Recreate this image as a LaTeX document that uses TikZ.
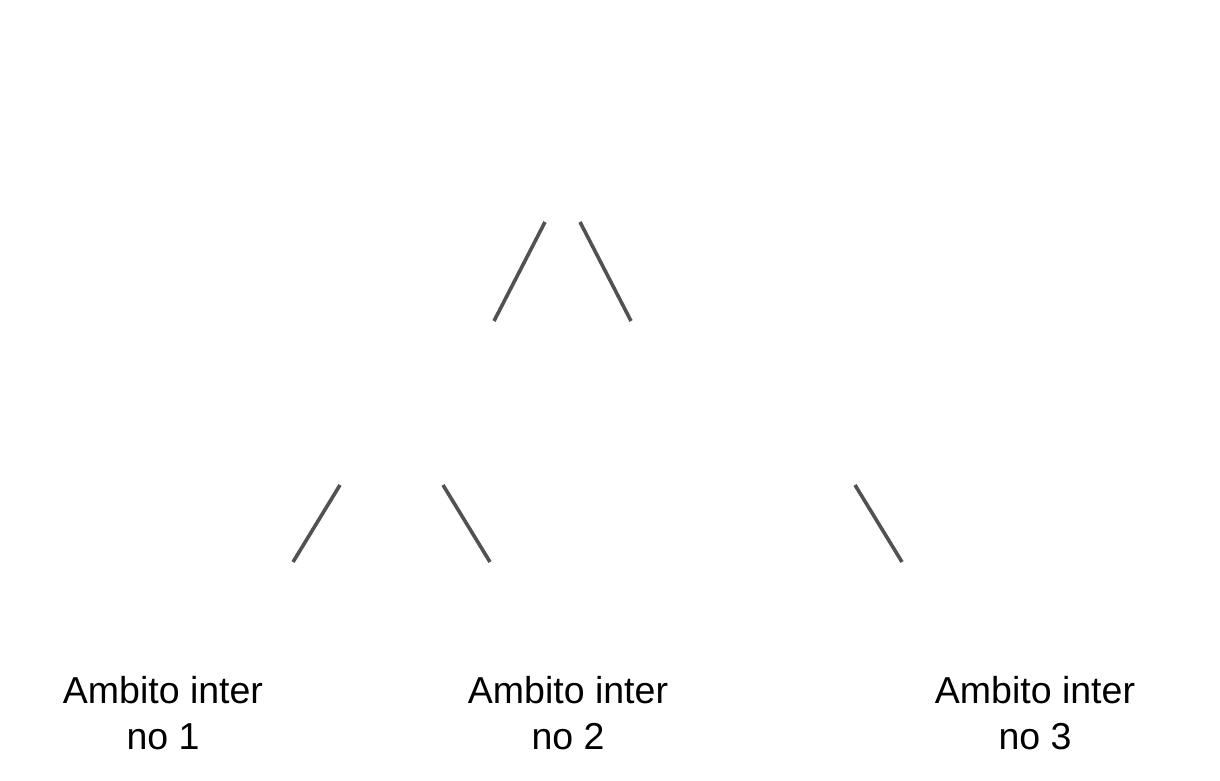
\documentclass[tikz,border=0pt]{standalone}
\usepackage{fontspec}
\setmainfont{Liberation Sans}
\begin{document}
\begin{tikzpicture}[x=1pt,y=-1pt,
  branch/.style={draw=black!68,line width=3.6pt},
  leaf/.style={inner sep=0pt,align=center,font=\fontsize{37.5}{46}\selectfont}]
\useasboundingbox (0,0) rectangle (1220,781);
\coordinate (a1) at (545,222); \coordinate (a2) at (494,321);
\coordinate (b1) at (580,222); \coordinate (b2) at (631,321);
\coordinate (c1) at (340,485); \coordinate (c2) at (293,562);
\coordinate (d1) at (443,485); \coordinate (d2) at (490,562);
\coordinate (e1) at (855,485); \coordinate (e2) at (902,562);
\draw[branch] (a1) -- (a2);
\draw[branch] (b1) -- (b2);
\draw[branch] (c1) -- (c2);
\draw[branch] (d1) -- (d2);
\draw[branch] (e1) -- (e2);
\node[leaf] (t1) at (163,713) {Ambito inter\\no 1};
\node[leaf] (t2) at (568,713) {Ambito inter\\no 2};
\node[leaf] (t3) at (1035,713) {Ambito inter\\no 3};
\end{tikzpicture}
\end{document}
